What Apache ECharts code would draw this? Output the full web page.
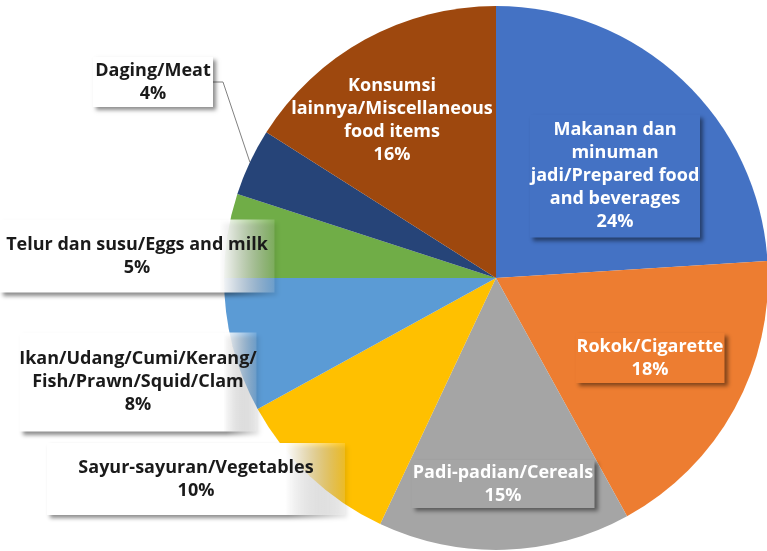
<!DOCTYPE html>
<html><head><meta charset="utf-8">
<script src="https://cdn.jsdelivr.net/npm/echarts@6/dist/echarts.min.js"></script>
<style>html,body{margin:0;padding:0;background:#fff}#c{width:767px;height:551px}</style>
</head><body><div id="c"></div>
<script>
const categories = [
  "Makanan dan\nminuman\njadi/Prepared food\nand beverages",
  "Rokok/Cigarette",
  "Padi-padian/Cereals",
  "Sayur-sayuran/Vegetables",
  "Ikan/Udang/Cumi/Kerang/\nFish/Prawn/Squid/Clam",
  "Telur dan susu/Eggs and milk",
  "Daging/Meat",
  "Konsumsi\nlainnya/Miscellaneous\nfood items"
];
const shares = [24, 18, 15, 10, 8, 5, 4, 16];
const colors = ["#4472C4", "#ED7D31", "#A5A5A5", "#FFC000", "#5B9BD5", "#70AD47", "#264478", "#9E480E"];

// label box layout: [centerX, centerY, boxWidth, boxHeight, inside, fadeStart]
const labelBoxes = [
  [615, 176, 170, 123, true, 0],
  [650, 358, 149, 50, true, 0],
  [503, 484, 183, 48, true, 0],
  [196, 479, 298, 72, false, 0.8],
  [138, 382, 237, 99, false, 0.86],
  [137, 256, 275, 73, false, 0.8],
  [153, 82, 120, 50, false, 1],
  [392, 120, 205, 104, true, -1]
];
const LH = 23;

function boxFill(i) {
  const b = labelBoxes[i];
  if (b[4]) return b[5] < 0 ? "transparent" : colors[i];
  if (b[5] >= 1) return "#ffffff";
  return new echarts.graphic.LinearGradient(0, 0, 1, 0, [
    { offset: 0, color: "rgba(255,255,255,1)" },
    { offset: b[5], color: "rgba(255,255,255,1)" },
    { offset: 1, color: "rgba(255,255,255,0.15)" }
  ]);
}

const data = categories.map((name, i) => {
  const b = labelBoxes[i];
  const lines = name.split("\n").length + 1;
  const padY = Math.max(0, (b[3] - lines * LH) / 2);
  const noShadow = b[5] < 0;
  return {
    name: name,
    value: shares[i],
    itemStyle: { color: colors[i] },
    label: {
      position: b[4] ? "inside" : "outside",
      color: b[4] ? "#ffffff" : "#1a1a1a",
      backgroundColor: boxFill(i),
      width: b[2],
      overflow: "none",
      padding: [padY, 0, padY, 0],
      shadowColor: noShadow ? "transparent" : "rgba(0,0,0,0.45)",
      shadowBlur: 4,
      shadowOffsetX: 3,
      shadowOffsetY: 3
    },
    labelLine: { show: !b[4], lineStyle: { color: "#808080", width: 1 } }
  };
});

const chart = echarts.init(document.getElementById("c"));
chart.setOption({
  animation: false,
  series: [{
    type: "pie",
    center: ["64.67%", "50.45%"],
    radius: 272,
    startAngle: 90,
    clockwise: true,
    data: data,
    label: {
      show: true,
      fontFamily: "Open Sans",
      fontWeight: "bold",
      fontSize: 18,
      lineHeight: LH,
      align: "center",
      overflow: "none",
      formatter: p => p.name + "\n" + Math.round(p.percent) + "%"
    },
    labelLine: { show: true, length: 10, length2: 10 },
    labelLayout: function (params) {
      const b = labelBoxes[params.dataIndex];
      return { x: b[0], y: b[1], align: "center", verticalAlign: "middle" };
    },
    emphasis: { disabled: true }
  }]
});
</script>
</body></html>
